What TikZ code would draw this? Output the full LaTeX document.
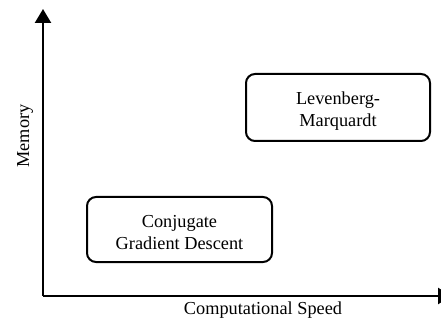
\documentclass[tikz,border=0pt]{standalone}
\usepackage{fontspec}
\setmainfont{Liberation Serif}
\usetikzlibrary{arrows.meta}
\begin{document}
\begin{tikzpicture}[x=1pt,y=-1pt,
  axis/.style={line width=2.4pt,-{Triangle[width=16pt,length=14pt]}},
  region/.style={draw,line width=2pt,rounded corners=9pt},
  lbl/.style={font=\fontsize{18.3}{22}\selectfont,align=center,inner sep=0pt}]
\useasboundingbox (0,0) rectangle (441,320);
\coordinate (o) at (43,296);
\coordinate (ytop) at (43,9);
\coordinate (xend) at (452,296);
\draw[axis] (o) -- (ytop);
\draw[axis] (o) -- (xend);
\node[region,minimum width=184pt,minimum height=67pt] (lm) at (338,107.5) {};
\node[lbl] (lmt) at (338,111) {Levenberg-\\Marquardt};
\node[region,minimum width=185pt,minimum height=65pt] (cg) at (179.5,229.5) {};
\node[lbl] (cgt) at (179.5,233) {Conjugate\\Gradient Descent};
\node[lbl,rotate=90] (mem) at (25,136) {Memory};
\node[lbl] (cs) at (263,310) {Computational Speed};
\end{tikzpicture}
\end{document}
